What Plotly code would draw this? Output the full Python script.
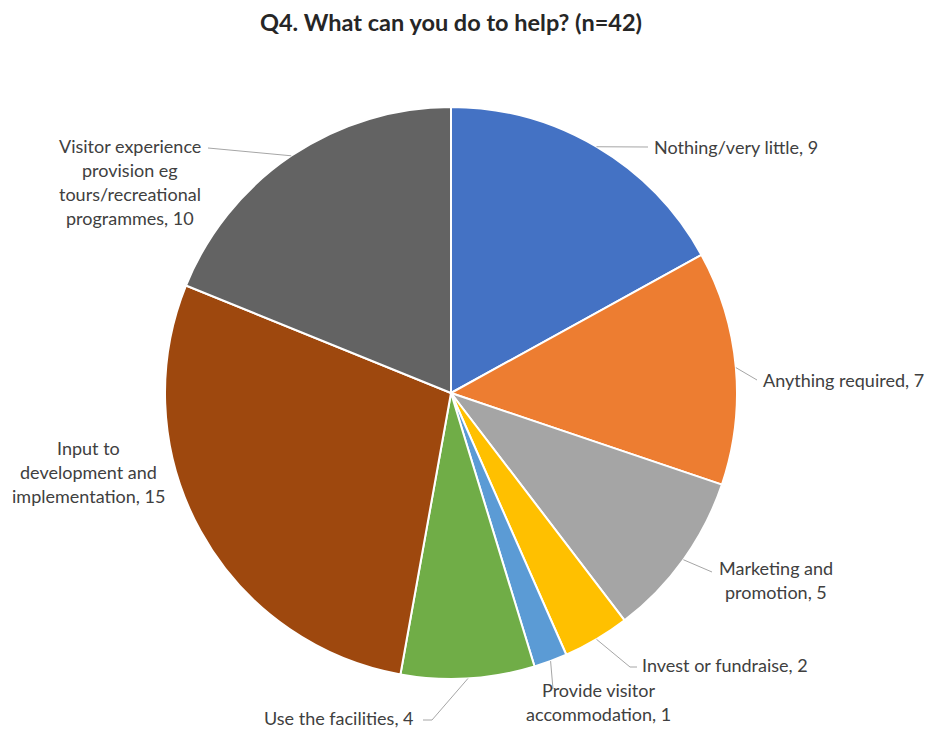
import math
import plotly.graph_objects as go

# ---- data ----
categories = [
    "Nothing/very little",
    "Anything required",
    "Marketing and promotion",
    "Invest or fundraise",
    "Provide visitor accommodation",
    "Use the facilities",
    "Input to development and implementation",
    "Visitor experience provision eg tours/recreational programmes",
]
values = [9, 7, 5, 2, 1, 4, 15, 10]
label_lines = [
    ["Nothing/very little, 9"],
    ["Anything required, 7"],
    ["Marketing and", "promotion, 5"],
    ["Invest or fundraise, 2"],
    ["Provide visitor", "accommodation, 1"],
    ["Use the facilities, 4"],
    ["Input to", "development and", "implementation, 15"],
    ["Visitor experience", "provision eg", "tours/recreational", "programmes, 10"],
]
title_text = "Q4. What can you do to help? (n=42)"

# ---- style ----
colors = ["#4472C4", "#ED7D31", "#A5A5A5", "#FFC000", "#5B9BD5", "#70AD47", "#9E480E", "#636363"]
W, H = 934, 745
CX, CY, R = 451, 393, 286
FONT = "Lato"
TXT = "#404040"
LINE = "#A6A6A6"
LH = 24  # label line spacing in px

# label placement (px): x, y of first line, anchor; and leader-line bend points
label_pos = [
    (652, 147, "left"),
    (761, 380, "left"),
    (776, 568, "center"),
    (640, 665, "left"),
    (598, 690, "center"),
    (416, 718, "right"),
    (88, 448, "center"),
    (130, 146, "center"),
]
leader_pts = [
    [(648, 147)],
    [(757, 380)],
    [(712, 572)],
    [(630, 667), (637, 667)],
    [(553, 689)],
    [(432, 720), (423, 720)],
    None,
    [(208, 148)],
]

def px(x, y):
    return x / W, 1 - y / H

fig = go.Figure()
fig.add_trace(go.Pie(
    labels=categories,
    values=values,
    sort=False,
    direction="clockwise",
    rotation=0,
    textinfo="none",
    hoverinfo="label+value",
    marker=dict(colors=colors, line=dict(color="white", width=2)),
    domain=dict(x=[(CX - R) / W, (CX + R) / W], y=[1 - (CY + R) / H, 1 - (CY - R) / H]),
    showlegend=False,
))

annotations = []
shapes = []
total = sum(values)
cum = 0
for i, v in enumerate(values):
    mid = (cum + v / 2) / total * 2 * math.pi
    cum += v
    sx = CX + R * math.sin(mid)
    sy = CY - R * math.cos(mid)
    pts = leader_pts[i]
    if pts:
        path = [(sx, sy)] + pts
        d = "M " + " L ".join(f"{px(a, b)[0]},{px(a, b)[1]}" for a, b in path)
        shapes.append(dict(type="path", xref="paper", yref="paper", path=d,
                           line=dict(color=LINE, width=1)))
    x0, y0, anc = label_pos[i]
    for j, line in enumerate(label_lines[i]):
        ax, ay = px(x0, y0 + j * LH)
        annotations.append(dict(x=ax, y=ay, xref="paper", yref="paper", text=line,
                                showarrow=False, xanchor=anc, yanchor="middle",
                                font=dict(family=FONT, size=18, color=TXT)))

tx, ty = px(451, 22)
annotations.append(dict(x=tx, y=ty, xref="paper", yref="paper", text="<b>" + title_text + "</b>",
                        showarrow=False, xanchor="center", yanchor="middle",
                        font=dict(family=FONT, size=23.5, color="#262626")))

fig.update_layout(
    width=W, height=H,
    margin=dict(l=0, r=0, t=0, b=0),
    paper_bgcolor="white", plot_bgcolor="white",
    annotations=annotations, shapes=shapes,
)
fig.write_html("out.html")
